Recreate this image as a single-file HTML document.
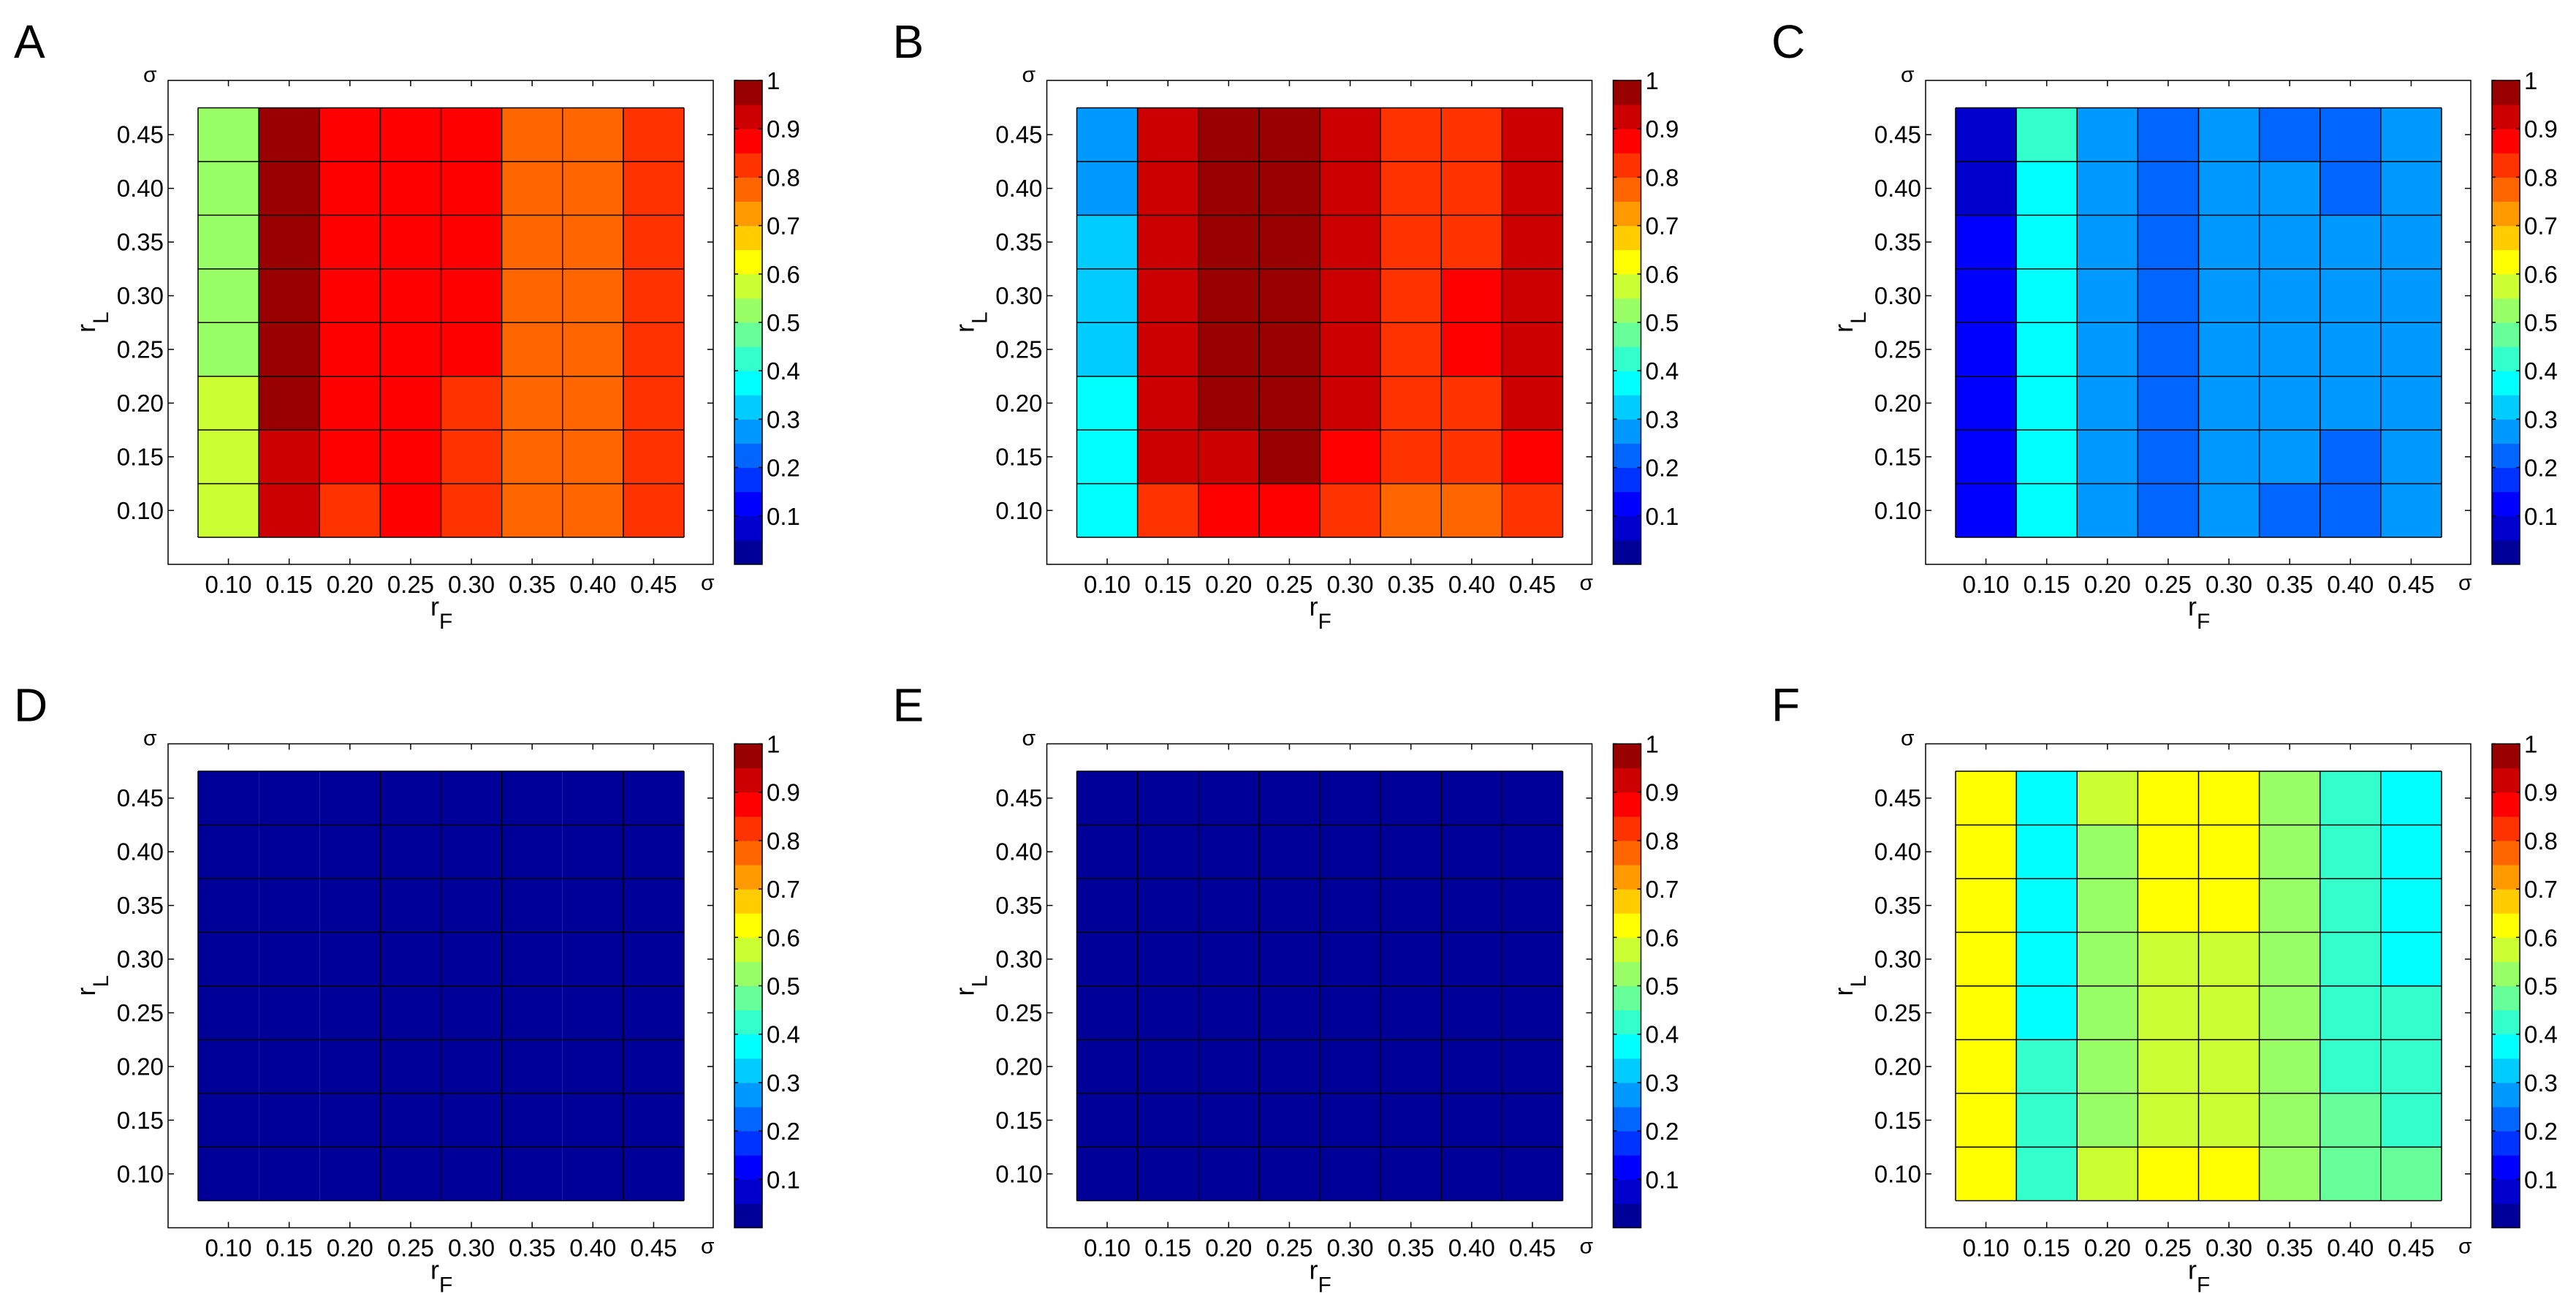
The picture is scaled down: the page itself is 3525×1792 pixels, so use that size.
<!DOCTYPE html>
<html><head><meta charset="utf-8">
<style>
html,body{margin:0;padding:0;background:#fff;}
svg{display:block;}
text{font-family:"Liberation Sans",Arial,sans-serif;fill:#000;}
</style></head>
<body>
<svg id="fig" width="3525" height="1792" viewBox="0 0 3525 1792" xmlns="http://www.w3.org/2000/svg"></svg>
<script>
// ---- data ----
const xCategories = ["0.10","0.15","0.20","0.25","0.30","0.35","0.40","0.45"];
const yCategories = ["0.45","0.40","0.35","0.30","0.25","0.20","0.15","0.10"]; // top to bottom
const colorbarTicks = ["0.1","0.2","0.3","0.4","0.5","0.6","0.7","0.8","0.9","1"];
const colorbarTickValues = [0.1,0.2,0.3,0.4,0.5,0.6,0.7,0.8,0.9,1.0];
const panelLabels = ["A","B","C","D","E","F"];
// values per panel, rows top (rL=0.45) to bottom (rL=0.10), cols rF 0.10..0.45
const valuesA = [
[0.525,0.975,0.875,0.875,0.875,0.775,0.775,0.825],
[0.525,0.975,0.875,0.875,0.875,0.775,0.775,0.825],
[0.525,0.975,0.875,0.875,0.875,0.775,0.775,0.825],
[0.525,0.975,0.875,0.875,0.875,0.775,0.775,0.825],
[0.525,0.975,0.875,0.875,0.875,0.775,0.775,0.825],
[0.575,0.975,0.875,0.875,0.825,0.775,0.775,0.825],
[0.575,0.925,0.875,0.875,0.825,0.775,0.775,0.825],
[0.575,0.925,0.825,0.875,0.825,0.775,0.775,0.825]];
const valuesB = [
[0.275,0.925,0.975,0.975,0.925,0.825,0.825,0.925],
[0.275,0.925,0.975,0.975,0.925,0.825,0.825,0.925],
[0.325,0.925,0.975,0.975,0.925,0.825,0.825,0.925],
[0.325,0.925,0.975,0.975,0.925,0.825,0.875,0.925],
[0.325,0.925,0.975,0.975,0.925,0.825,0.875,0.925],
[0.375,0.925,0.975,0.975,0.925,0.825,0.825,0.925],
[0.375,0.925,0.925,0.975,0.875,0.825,0.825,0.875],
[0.375,0.825,0.875,0.875,0.825,0.775,0.775,0.825]];
const valuesC = [
[0.075,0.425,0.275,0.225,0.275,0.225,0.225,0.275],
[0.075,0.375,0.275,0.225,0.275,0.275,0.225,0.275],
[0.125,0.375,0.275,0.225,0.275,0.275,0.275,0.275],
[0.125,0.375,0.275,0.225,0.275,0.275,0.275,0.275],
[0.125,0.375,0.275,0.225,0.275,0.275,0.275,0.275],
[0.125,0.375,0.275,0.225,0.275,0.275,0.275,0.275],
[0.125,0.375,0.275,0.225,0.275,0.275,0.225,0.275],
[0.125,0.375,0.275,0.225,0.275,0.225,0.225,0.275]];
const valuesD = [
[0.02,0.02,0.02,0.02,0.02,0.02,0.02,0.02],
[0.02,0.02,0.02,0.02,0.02,0.02,0.02,0.02],
[0.02,0.02,0.02,0.02,0.02,0.02,0.02,0.02],
[0.02,0.02,0.02,0.02,0.02,0.02,0.02,0.02],
[0.02,0.02,0.02,0.02,0.02,0.02,0.02,0.02],
[0.02,0.02,0.02,0.02,0.02,0.02,0.02,0.02],
[0.02,0.02,0.02,0.02,0.02,0.02,0.02,0.02],
[0.02,0.02,0.02,0.02,0.02,0.02,0.02,0.02]];
const valuesE = [
[0.02,0.02,0.02,0.02,0.02,0.02,0.02,0.02],
[0.02,0.02,0.02,0.02,0.02,0.02,0.02,0.02],
[0.02,0.02,0.02,0.02,0.02,0.02,0.02,0.02],
[0.02,0.02,0.02,0.02,0.02,0.02,0.02,0.02],
[0.02,0.02,0.02,0.02,0.02,0.02,0.02,0.02],
[0.02,0.02,0.02,0.02,0.02,0.02,0.02,0.02],
[0.02,0.02,0.02,0.02,0.02,0.02,0.02,0.02],
[0.02,0.02,0.02,0.02,0.02,0.02,0.02,0.02]];
const valuesF = [
[0.625,0.375,0.575,0.625,0.625,0.525,0.425,0.375],
[0.625,0.375,0.525,0.625,0.625,0.525,0.425,0.375],
[0.625,0.375,0.525,0.625,0.625,0.525,0.425,0.375],
[0.625,0.375,0.525,0.575,0.575,0.525,0.425,0.375],
[0.625,0.375,0.525,0.575,0.575,0.525,0.425,0.425],
[0.625,0.425,0.525,0.575,0.575,0.525,0.425,0.425],
[0.625,0.425,0.525,0.575,0.575,0.525,0.475,0.425],
[0.625,0.425,0.575,0.625,0.625,0.525,0.475,0.475]];
const panelValues = [valuesA,valuesB,valuesC,valuesD,valuesE,valuesF];
// vertical cell edges hidden in panel D (between columns)
const hiddenEdgesD = [1,2,6];

const jet20 = ["#000099","#0000CC","#0000FF","#0033FF","#0066FF","#0099FF","#00CCFF","#00FFFF","#33FFCC","#66FF99",
"#99FF66","#CCFF33","#FFFF00","#FFCC00","#FF9900","#FF6600","#FF3300","#FF0000","#CC0000","#990000"];
function colorOf(v){let k=Math.floor(v*20);if(k<0)k=0;if(k>19)k=19;return jet20[k];}

const NS="http://www.w3.org/2000/svg";
const svg=document.getElementById('fig');
function mk(tag,attrs,parent){const e=document.createElementNS(NS,tag);for(const k in attrs)e.setAttribute(k,attrs[k]);(parent||svg).appendChild(e);return e;}

const BW=746,BH=662;
panelLabels.forEach((lab,p)=>{
  const col=p%3,row=Math.floor(p/3);
  const bx=230+col*1202.5, by=110+row*907.5;
  const g=mk('g',{});
  
  
  // axis functions: data range 0.05..0.50 on x? cells from 0.075 to 0.475
  const cx0=bx+41, cx1=bx+706, cy0=by+37.5, cy1=by+625;
  const nx=xCategories.length, ny=yCategories.length;
  const xScale=i=>cx0+(cx1-cx0)*i/nx;
  const yScale=j=>cy0+(cy1-cy0)*j/ny;
  const cbTop=by, cbBot=by+BH, cbX0=bx+775, cbX1=bx+813;
  const cbScale=v=>cbBot-(cbBot-cbTop)*v;

  const t=mk('text',{x:bx-211,y:by-31,'font-size':64},g);t.textContent=lab;
  
  

  const box=mk('rect',{x:bx,y:by,width:BW,height:BH,fill:'#fff',stroke:'#000','stroke-width':1.5},g);
  
  

  const vals=panelValues[p];
  const cells=mk('g',{},g);
  
  
  for(let j=0;j<ny;j++)for(let i=0;i<nx;i++){
    const r=mk('rect',{x:xScale(i),y:yScale(j),width:xScale(i+1)-xScale(i),height:yScale(j+1)-yScale(j),fill:colorOf(vals[j][i])},cells);
    
    
  }
  // edges
  for(let j=0;j<=ny;j++){const l=mk('line',{x1:xScale(0),x2:xScale(nx),y1:yScale(j),y2:yScale(j),stroke:'#000','stroke-width':1.5},cells);}
  for(let i=0;i<=nx;i++){
    if(lab==='D'&&hiddenEdgesD.includes(i))continue;
    mk('line',{x1:xScale(i),x2:xScale(i),y1:yScale(0),y2:yScale(ny),stroke:'#000','stroke-width':1.5},cells);
  }
  // ticks and labels
  for(let i=0;i<nx;i++){
    const x=(xScale(i)+xScale(i+1))/2;
    mk('line',{x1:x,x2:x,y1:by+BH,y2:by+BH-8,stroke:'#000','stroke-width':1.5},g);
    mk('line',{x1:x,x2:x,y1:by,y2:by+8,stroke:'#000','stroke-width':1.5},g);
    const tl=mk('text',{x:x,y:by+701,'font-size':33,'text-anchor':'middle'},g);tl.textContent=xCategories[i];
    
    
  }
  for(let j=0;j<ny;j++){
    const y=(yScale(j)+yScale(j+1))/2;
    mk('line',{x1:bx,x2:bx+8,y1:y,y2:y,stroke:'#000','stroke-width':1.5},g);
    mk('line',{x1:bx+BW,x2:bx+BW-8,y1:y,y2:y,stroke:'#000','stroke-width':1.5},g);
    const tl=mk('text',{x:bx-6,y:y+11.5,'font-size':33,'text-anchor':'end'},g);tl.textContent=yCategories[j];
    
    
  }
  // sigma marks
  const s1=mk('text',{x:bx-34,y:by+2,'font-size':30},g);s1.textContent='σ';
  
  
  const s2=mk('text',{x:bx+729,y:by+697,'font-size':30},g);s2.textContent='σ';
  
  
  // axis titles
  const xt=mk('text',{x:bx+359,y:by+732,'font-size':36},g);
  xt.innerHTML='r<tspan font-size="30" dy="18">F</tspan>';
  
  
  const yt=mk('text',{x:0,y:0,'font-size':36,transform:`translate(${bx-100},${by+345}) rotate(-90)`},g);
  yt.innerHTML='r<tspan font-size="30" dy="18">L</tspan>';
  
  
  // colorbar
  const cb=mk('g',{},g);
  
  
  for(let k=0;k<20;k++){
    mk('rect',{x:cbX0,y:cbScale((k+1)/20),width:cbX1-cbX0,height:cbScale(k/20)-cbScale((k+1)/20)+0.5,fill:jet20[k]},cb);
  }
  mk('rect',{x:cbX0,y:cbTop,width:cbX1-cbX0,height:cbBot-cbTop,fill:'none',stroke:'#000','stroke-width':1.5},cb);
  colorbarTickValues.forEach((v,k)=>{
    const y=cbScale(v);
    mk('line',{x1:cbX0,x2:cbX0+5,y1:y,y2:y,stroke:'#000','stroke-width':1.5},cb);
    mk('line',{x1:cbX1,x2:cbX1-5,y1:y,y2:y,stroke:'#000','stroke-width':1.5},cb);
    const tl=mk('text',{x:bx+819,y:y+12,'font-size':33},cb);tl.textContent=colorbarTicks[k];
    
    
  });
});
</script>
</body></html>
